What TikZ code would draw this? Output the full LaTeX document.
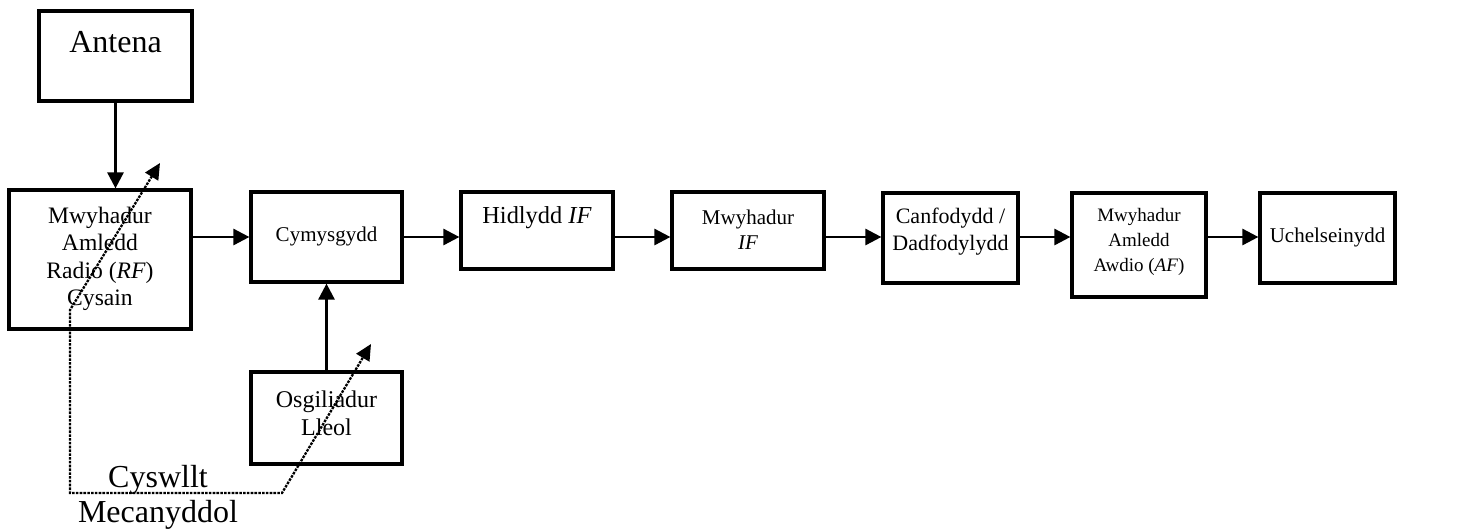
\documentclass[tikz,border=0pt]{standalone}
\usepackage{fontspec}
\setmainfont{Liberation Serif}
\usetikzlibrary{arrows.meta}
\begin{document}
\begin{tikzpicture}[x=0.5pt,y=-0.5pt,
  block/.style={draw, line width=1.6pt, rectangle, inner sep=0pt},
  flow/.style={line width=1.35pt, -{Triangle[length=8pt,width=8pt]}},
  gang/.style={line width=1.15pt, dash pattern=on 1.3pt off 0.6pt,
    {Triangle[length=8pt,width=7.5pt]}-{Triangle[length=8pt,width=7.5pt]}},
  lbl/.style={align=center, inner sep=0pt}]
\useasboundingbox (0,0) rectangle (1466,531);

% blocks of the superheterodyne receiver
\node[block, minimum width=76.5pt, minimum height=45pt]   (ant)  at (115.5,56)   {};
\node[block, minimum width=91pt,   minimum height=69.5pt] (rf)   at (100,259.5)  {};
\node[block, minimum width=75.5pt, minimum height=45pt]   (cym)  at (326.5,237)  {};
\node[block, minimum width=75.5pt, minimum height=46pt]   (osc)  at (326.5,418)  {};
\node[block, minimum width=76pt,   minimum height=38.5pt] (hid)  at (537,230.5)  {};
\node[block, minimum width=76pt,   minimum height=38.5pt] (mif)  at (748,230.5)  {};
\node[block, minimum width=67.5pt, minimum height=45pt]   (canf) at (950.5,238)  {};
\node[block, minimum width=67pt,   minimum height=52pt]   (maf)  at (1139,245)   {};
\node[block, minimum width=67.5pt, minimum height=45pt]   (uch)  at (1327.5,238) {};

% block texts
\node[lbl, font=\fontsize{16}{19}\selectfont, anchor=base] (tant) at (115.5,52) {Antena};
\node[lbl, font=\fontsize{11.8}{13.65}\selectfont] (trf) at (100,259) {Mwyhadur\\Amledd\\Radio (\textit{RF})\\Cysain};
\node[lbl, font=\fontsize{10.5}{12.5}\selectfont] (tcym) at (326.5,236) {Cymysgydd};
\node[lbl, font=\fontsize{12}{14}\selectfont] (tosc) at (326.5,413) {Osgiliadur\\Lleol};
\node[lbl, font=\fontsize{12.2}{14}\selectfont] (thid) at (537,218) {Hidlydd \textit{IF}};
\node[lbl, font=\fontsize{10.5}{12.5}\selectfont] (tmif) at (748,229.5) {Mwyhadur\\\textit{IF}};
\node[lbl, font=\fontsize{11}{13.5}\selectfont] (tcanf) at (950.5,231.5) {Canfodydd /\\Dadfodylydd};
\node[lbl, font=\fontsize{9.5}{12.5}\selectfont] (tmaf) at (1139,242) {Mwyhadur\\Amledd\\Awdio (\textit{AF})};
\node[lbl, font=\fontsize{10.5}{12.5}\selectfont] (tuch) at (1327.5,237) {Uchelseinydd};
\node[lbl, font=\fontsize{16}{17.5}\selectfont] (tcoup) at (158,497) {Cyswllt\\Mecanyddol};

% signal path
\draw[flow] (ant.south) -- (ant.south |- rf.north);
\draw[flow] (rf.east |- cym.center) -- (cym.west);
\draw[flow] (cym.east) -- (hid.west |- cym.center);
\draw[flow] (hid.east |- cym.center) -- (mif.west |- cym.center);
\draw[flow] (mif.east |- cym.center) -- (canf.west |- cym.center);
\draw[flow] (canf.east |- cym.center) -- (maf.west |- cym.center);
\draw[flow] (maf.east |- cym.center) -- (uch.west |- cym.center);
\draw[flow] (osc.north) -- (cym.south);

% ganged tuning (mechanical coupling)
\coordinate (g1) at (160,163);
\coordinate (g2) at (70,310);
\coordinate (g3) at (70,493);
\coordinate (g4) at (282,493);
\coordinate (g5) at (371,344);
\draw[gang] (g1) -- (g2) -- (g3) -- (g4) -- (g5);
\end{tikzpicture}
\end{document}
